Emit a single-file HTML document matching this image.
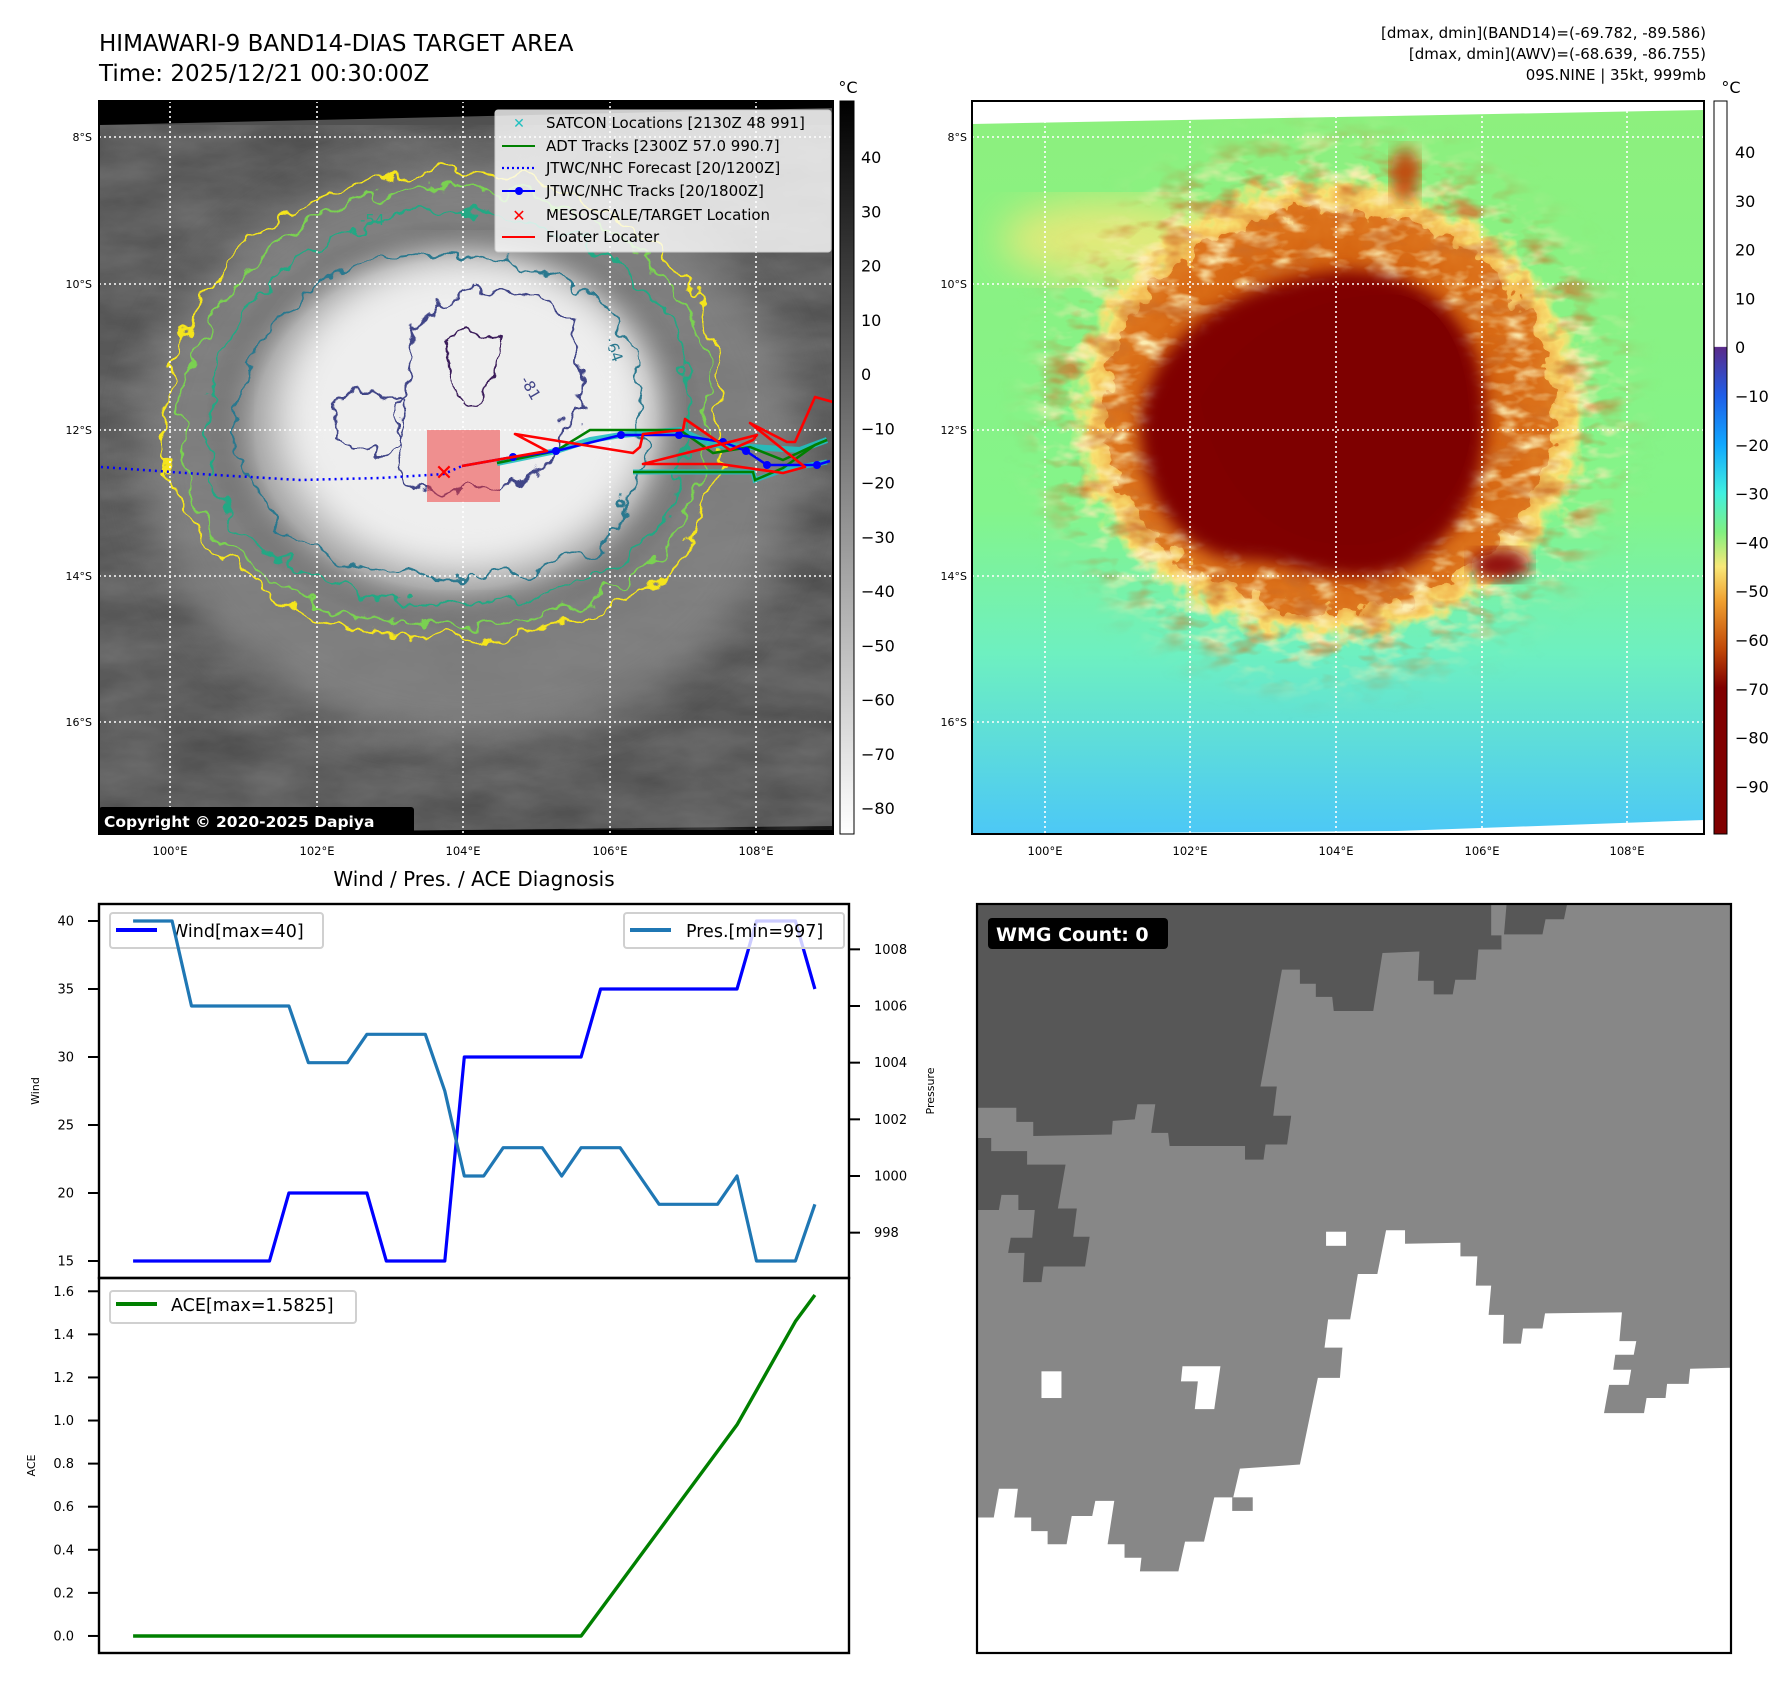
<!DOCTYPE html>
<html><head><meta charset="utf-8">
<style>
html,body{margin:0;padding:0;background:#fff;}
svg{display:block;font-family:"DejaVu Sans","Liberation Sans",sans-serif;}
</style></head>
<body>
<svg id="fig" width="1792" height="1690" viewBox="0 0 1792 1690" xmlns="http://www.w3.org/2000/svg">
<defs>
  <filter id="wig" x="-20%" y="-20%" width="140%" height="140%">
    <feTurbulence type="fractalNoise" baseFrequency="0.035" numOctaves="3" seed="4"/>
    <feDisplacementMap in="SourceGraphic" scale="34" xChannelSelector="R" yChannelSelector="G"/>
  </filter>
  <filter id="wig2" x="-20%" y="-20%" width="140%" height="140%">
    <feTurbulence type="fractalNoise" baseFrequency="0.05" numOctaves="3" seed="9"/>
    <feDisplacementMap in="SourceGraphic" scale="40" xChannelSelector="R" yChannelSelector="G"/>
  </filter>
  <filter id="blur8"><feGaussianBlur stdDeviation="8"/></filter>
  <filter id="blur20"><feGaussianBlur stdDeviation="20"/></filter>
  <filter id="noiseGray" x="0" y="0" width="100%" height="100%">
    <feTurbulence type="fractalNoise" baseFrequency="0.012 0.03" numOctaves="4" seed="2"/>
    <feColorMatrix type="matrix" values="0 0 0 0 0.3  0 0 0 0 0.3  0 0 0 0 0.3  0 0 0 0.9 -0.1"/>
  </filter>
  <filter id="noiseYellow" x="0" y="0" width="100%" height="100%">
    <feTurbulence type="fractalNoise" baseFrequency="0.03 0.06" numOctaves="3" seed="7"/>
    <feColorMatrix type="matrix" values="0 0 0 0 0.97  0 0 0 0 0.85  0 0 0 0 0.45  3 0 0 0 -1.45"/>
  </filter>
  <filter id="noiseBrown" x="0" y="0" width="100%" height="100%">
    <feTurbulence type="fractalNoise" baseFrequency="0.025 0.05" numOctaves="3" seed="13"/>
    <feColorMatrix type="matrix" values="0 0 0 0 0.6  0 0 0 0 0.15  0 0 0 0 0.02  3 0 0 0 -1.5"/>
  </filter>
  <mask id="haloMask">
    <rect x="972" y="101" width="732" height="733" fill="#000"/>
    <ellipse cx="1330" cy="410" rx="290" ry="265" fill="#fff" filter="url(#blur20)"/>
    <path d="M1200,400 C1240,330 1320,290 1400,295 C1460,310 1470,380 1470,440 C1460,500 1420,540 1360,545 C1280,548 1220,500 1200,400 Z" fill="#000" filter="url(#blur20)"/>
  </mask>
  <clipPath id="clipL"><rect x="99" y="101" width="734" height="733"/></clipPath>
  <clipPath id="clipR"><rect x="972" y="101" width="732" height="733"/></clipPath>
  <clipPath id="clipB"><rect x="977" y="904" width="754" height="749"/></clipPath>
  <radialGradient id="gCloud" cx="0.5" cy="0.5" r="0.5">
    <stop offset="0" stop-color="#f4f4f4"/><stop offset="0.55" stop-color="#e6e6e6"/>
    <stop offset="0.8" stop-color="#a8a8a8"/><stop offset="1" stop-color="#5a5a5a" stop-opacity="0"/>
  </radialGradient>
  <linearGradient id="gBg" x1="0" y1="0" x2="0" y2="1">
    <stop offset="0" stop-color="#8df07e"/><stop offset="0.55" stop-color="#84f48a"/>
    <stop offset="0.75" stop-color="#6ef0c0"/><stop offset="1" stop-color="#4cc8f6"/>
  </linearGradient>
  <radialGradient id="gHalo" cx="0.5" cy="0.5" r="0.5">
    <stop offset="0" stop-color="#b03a08"/><stop offset="0.6" stop-color="#d86812"/>
    <stop offset="0.82" stop-color="#f0a040"/><stop offset="0.93" stop-color="#f8e070"/>
    <stop offset="1" stop-color="#f8f080" stop-opacity="0"/>
  </radialGradient>
  <linearGradient id="gCbL" x1="0" y1="0" x2="0" y2="1">
    <stop offset="0" stop-color="#000"/><stop offset="1" stop-color="#fff"/>
  </linearGradient>
  <linearGradient id="gCbR" x1="0" y1="0" x2="0" y2="1">
    <stop offset="0" stop-color="#fff"/><stop offset="0.335" stop-color="#fff"/>
    <stop offset="0.336" stop-color="#5a2a8a"/><stop offset="0.402" stop-color="#1f5ee8"/>
    <stop offset="0.469" stop-color="#10a8ff"/><stop offset="0.535" stop-color="#40f0e0"/>
    <stop offset="0.588" stop-color="#80f080"/><stop offset="0.635" stop-color="#f8e878"/>
    <stop offset="0.682" stop-color="#f0a030"/><stop offset="0.748" stop-color="#c04808"/>
    <stop offset="0.8" stop-color="#800000"/><stop offset="1" stop-color="#800000"/>
  </linearGradient>
</defs>

<!-- ===== Titles ===== -->
<text x="99" y="51" font-size="23" fill="#000">HIMAWARI-9 BAND14-DIAS TARGET AREA</text>
<text x="99" y="81" font-size="23" fill="#000">Time: 2025/12/21 00:30:00Z</text>
<g font-size="15" text-anchor="end" fill="#000">
  <text x="1706" y="38">[dmax, dmin](BAND14)=(-69.782, -89.586)</text>
  <text x="1706" y="59">[dmax, dmin](AWV)=(-68.639, -86.755)</text>
  <text x="1706" y="80">09S.NINE | 35kt, 999mb</text>
</g>

<!-- ===== Left IR map ===== -->
<g>
  <rect x="99" y="101" width="734" height="733" fill="#000"/>
  <g clip-path="url(#clipL)">
    <polygon points="99,125 833,108 833,826 99,834" fill="#505050"/>
    <rect x="99" y="125" width="734" height="705" filter="url(#noiseGray)" opacity="0.6"/>
    <ellipse cx="470" cy="450" rx="330" ry="290" fill="#8a8a8a" filter="url(#blur20)" opacity="0.75"/>
    <ellipse cx="455" cy="425" rx="250" ry="205" fill="url(#gCloud)"/>
    <ellipse cx="470" cy="410" rx="180" ry="150" fill="#eeeeee" filter="url(#blur20)"/>
    <g fill="none" stroke-width="2.2" filter="url(#wig)">
      <path d="M165,420 C170,300 260,200 400,175 C520,160 640,200 700,300 C735,370 720,460 700,520 C670,600 560,640 440,638 C320,636 200,580 170,480 Z" stroke="#f5e51c"/>
      <path d="M180,420 C190,310 275,215 400,190 C515,175 630,215 690,310 C720,375 705,460 685,515 C655,590 555,625 440,625 C330,624 215,570 185,480 Z" stroke="#7ad151"/>
      <path d="M205,420 C215,320 290,235 405,215 C510,200 615,240 670,320 C700,380 690,455 672,505 C640,575 545,605 440,604 C335,603 235,555 210,475 Z" stroke="#22a884"/>
      <path d="M235,415 C245,330 315,265 410,256 C510,250 600,280 630,340 C650,395 645,470 625,520 C595,565 520,578 440,576 C370,575 300,560 262,500 C245,470 238,440 235,415 Z" stroke="#2a788e"/>
      <path d="M400,470 C395,400 410,330 440,300 C480,283 540,290 570,320 C585,350 582,400 560,450 C540,485 480,495 440,488 C415,485 402,480 400,470 Z" stroke="#414487"/>
      <path d="M335,405 C345,390 380,388 405,400 C412,420 405,445 380,452 C355,455 335,440 335,405 Z" stroke="#414487"/>
      <path d="M445,350 C450,330 480,325 495,345 C505,370 495,395 475,400 C455,398 445,380 445,350 Z" stroke="#3b1c5a"/>
    </g>
    <text x="360" y="225" font-size="15" fill="#22a884">-54</text>
    <text x="520" y="380" font-size="15" fill="#414487" transform="rotate(60 520 380)">-81</text>
    <text x="605" y="340" font-size="15" fill="#2a788e" transform="rotate(70 605 340)">-64</text>
    <g stroke="#fff" stroke-width="1.6" stroke-dasharray="2,3">
      <line x1="170" y1="101" x2="170" y2="834"/><line x1="317" y1="101" x2="317" y2="834"/>
      <line x1="463" y1="101" x2="463" y2="834"/><line x1="610" y1="101" x2="610" y2="834"/>
      <line x1="756" y1="101" x2="756" y2="834"/>
      <line x1="99" y1="137" x2="833" y2="137"/><line x1="99" y1="284" x2="833" y2="284"/>
      <line x1="99" y1="430" x2="833" y2="430"/><line x1="99" y1="576" x2="833" y2="576"/>
      <line x1="99" y1="722" x2="833" y2="722"/>
    </g>
    <rect x="427" y="430" width="73" height="72" fill="#f03030" opacity="0.5"/>
    <polyline points="101,467 200,474 300,480 380,478 444,474 462,466" fill="none" stroke="#0000ff" stroke-width="2.5" stroke-dasharray="2,4"/>
    <polyline points="497,463 556,451 590,440 621,435 680,430 713,445 750,447 800,450 827,440" fill="none" stroke="#20c0c0" stroke-width="6" opacity="0.9"/>
    <polyline points="633,472 753,472 755,480 783,470 827,462" fill="none" stroke="#20c0c0" stroke-width="5" opacity="0.9"/>
    <polyline points="497,463 556,451 590,430 680,430 713,453 750,447 783,460 815,445 827,440" fill="none" stroke="#008000" stroke-width="2.5"/>
    <polyline points="633,472 753,472 755,480 783,468 815,445 827,440" fill="none" stroke="#008000" stroke-width="2.5"/>
    <polyline points="462,466 513,457 556,451 621,435 679,435 723,442 746,451 767,465 817,465 830,461" fill="none" stroke="#0000ff" stroke-width="2.5"/>
    <g fill="#0000ff">
      <circle cx="513" cy="457" r="4"/><circle cx="556" cy="451" r="4"/><circle cx="621" cy="435" r="4"/>
      <circle cx="679" cy="435" r="4"/><circle cx="723" cy="442" r="4"/><circle cx="746" cy="451" r="4"/>
      <circle cx="767" cy="465" r="4"/><circle cx="817" cy="465" r="4"/>
    </g>
    <polyline points="462,466 547,451 515,434 633,453 640,447 643,434 683,430 685,419 730,450 753,440 757,435 643,464 720,464 783,473 805,467 750,423 787,442 795,442 815,397 833,402" fill="none" stroke="#ff0000" stroke-width="2.6" stroke-linejoin="round"/>
    <text x="444" y="480" font-size="22" font-weight="bold" fill="#ff0000" text-anchor="middle">✕</text>
    <g>
      <rect x="495" y="110" width="336" height="142" rx="3" fill="#ffffff" fill-opacity="0.8" stroke="#cccccc"/>
      <text x="519" y="128" font-size="14" fill="#20c0c0" text-anchor="middle" font-weight="bold">✕</text>
      <line x1="502" y1="146" x2="535" y2="146" stroke="#008000" stroke-width="2"/>
      <line x1="502" y1="168" x2="535" y2="168" stroke="#0000ff" stroke-width="2.2" stroke-dasharray="2,3"/>
      <line x1="502" y1="191" x2="535" y2="191" stroke="#0000ff" stroke-width="2"/><circle cx="519" cy="191" r="4" fill="#0000ff"/>
      <text x="519" y="221" font-size="16" fill="#ff0000" text-anchor="middle" font-weight="bold">✕</text>
      <line x1="502" y1="237" x2="535" y2="237" stroke="#ff0000" stroke-width="2"/>
      <g font-size="15" fill="#000">
        <text x="546" y="128">SATCON Locations [2130Z 48 991]</text>
        <text x="546" y="151">ADT Tracks [2300Z 57.0 990.7]</text>
        <text x="546" y="173">JTWC/NHC Forecast [20/1200Z]</text>
        <text x="546" y="196">JTWC/NHC Tracks [20/1800Z]</text>
        <text x="546" y="220">MESOSCALE/TARGET Location</text>
        <text x="546" y="242">Floater Locater</text>
      </g>
    </g>
    <rect x="99" y="807" width="315" height="27" fill="#000" rx="3"/>
    <text x="104" y="827" font-size="15.5" font-weight="bold" fill="#fff">Copyright © 2020-2025 Dapiya</text>
  </g>
  <rect x="99" y="101" width="734" height="733" fill="none" stroke="#000" stroke-width="2"/>
</g>
<g font-size="11" fill="#000" text-anchor="end">
  <text x="92" y="141">8°S</text><text x="92" y="288">10°S</text><text x="92" y="434">12°S</text>
  <text x="92" y="580">14°S</text><text x="92" y="726">16°S</text>
</g>
<g font-size="11.5" fill="#000" text-anchor="middle">
  <text x="170" y="855">100°E</text><text x="317" y="855">102°E</text><text x="463" y="855">104°E</text>
  <text x="610" y="855">106°E</text><text x="756" y="855">108°E</text>
</g>
<g>
  <rect x="840" y="101" width="14" height="733" fill="url(#gCbL)" stroke="#000" stroke-width="1"/>
  <text x="848" y="93" font-size="16" text-anchor="middle">°C</text>
  <g font-size="16" fill="#000" id="cbLlabels"></g>
</g>

<!-- ===== Right color map ===== -->
<g>
  <rect x="972" y="101" width="732" height="733" fill="#fff"/>
  <g clip-path="url(#clipR)">
    <polygon points="972,124 1704,110 1704,820 1397,831 972,834" fill="url(#gBg)"/>
    <ellipse cx="1110" cy="240" rx="110" ry="40" fill="#f8e878" filter="url(#blur20)" opacity="0.8"/>
    <ellipse cx="1330" cy="410" rx="260" ry="235" fill="url(#gHalo)" filter="url(#wig2)"/>
    <ellipse cx="1330" cy="410" rx="225" ry="200" fill="#d46010" filter="url(#wig2)" opacity="0.7"/>
    <g mask="url(#haloMask)">
      <rect x="972" y="101" width="732" height="733" filter="url(#noiseYellow)"/>
      <rect x="972" y="101" width="732" height="733" filter="url(#noiseBrown)" opacity="0.8"/>
    </g>
    <path d="M1140,420 C1150,340 1230,285 1330,272 C1420,262 1480,320 1485,400 C1490,470 1465,540 1400,570 C1340,590 1290,560 1250,560 C1190,560 1140,510 1140,420 Z" fill="#800000" filter="url(#blur8)"/>
    <path d="M1200,400 C1240,330 1320,290 1400,295 C1460,310 1470,380 1470,440 C1460,500 1420,540 1360,545 C1280,548 1220,500 1200,400 Z" fill="#7e0000"/>
    <ellipse cx="1405" cy="175" rx="14" ry="28" fill="#c04808" filter="url(#blur8)"/>
    <ellipse cx="1500" cy="565" rx="30" ry="16" fill="#900808" filter="url(#blur8)"/>
    <g stroke="#fff" stroke-width="1.6" stroke-dasharray="2,3">
      <line x1="1045" y1="101" x2="1045" y2="834"/><line x1="1190" y1="101" x2="1190" y2="834"/>
      <line x1="1336" y1="101" x2="1336" y2="834"/><line x1="1482" y1="101" x2="1482" y2="834"/>
      <line x1="1627" y1="101" x2="1627" y2="834"/>
      <line x1="972" y1="137" x2="1704" y2="137"/><line x1="972" y1="284" x2="1704" y2="284"/>
      <line x1="972" y1="430" x2="1704" y2="430"/><line x1="972" y1="576" x2="1704" y2="576"/>
      <line x1="972" y1="722" x2="1704" y2="722"/>
    </g>
  </g>
  <rect x="972" y="101" width="732" height="733" fill="none" stroke="#000" stroke-width="2"/>
</g>
<g font-size="11" fill="#000" text-anchor="end">
  <text x="967" y="141">8°S</text><text x="967" y="288">10°S</text><text x="967" y="434">12°S</text>
  <text x="967" y="580">14°S</text><text x="967" y="726">16°S</text>
</g>
<g font-size="11.5" fill="#000" text-anchor="middle">
  <text x="1045" y="855">100°E</text><text x="1190" y="855">102°E</text><text x="1336" y="855">104°E</text>
  <text x="1482" y="855">106°E</text><text x="1627" y="855">108°E</text>
</g>
<g>
  <rect x="1714" y="101" width="13" height="733" fill="url(#gCbR)" stroke="#000" stroke-width="1"/>
  <text x="1731" y="93" font-size="16" text-anchor="middle">°C</text>
  <g font-size="16" fill="#000" id="cbRlabels"></g>
</g>

<!-- ===== Bottom-left chart ===== -->
<text x="474" y="886" font-size="20" text-anchor="middle" fill="#000">Wind / Pres. / ACE Diagnosis</text>
<g id="chart"></g>

<!-- ===== Bottom-right WMG panel ===== -->
<g>
  <g clip-path="url(#clipB)">
  <g transform="translate(963,890) scale(0.5128,0.504)">
    <rect x="28" y="28" width="1470" height="1486" fill="#878787"/>
    <polygon fill="#575757" points="28,28 1030,28 1030,90 1050,90 1050,118 1005,118 1000,178 960,178 955,207 918,207 918,180 887,180 890,122 818,125 800,240 723,240 720,212 688,212 688,186 657,186 657,158 622,158 580,390 612,390 605,448 640,448 632,505 590,505 586,535 550,535 550,508 403,508 400,482 367,482 375,425 340,425 335,455 292,458 290,485 137,488 137,460 104,460 104,432 28,432"/>
    <polygon fill="#575757" points="1060,28 1178,28 1172,58 1136,58 1130,88 1055,88"/>
    <polygon fill="#575757" points="28,492 55,492 55,518 125,518 125,545 200,545 185,632 222,632 215,688 247,688 238,747 157,747 153,778 117,778 120,720 88,720 93,690 135,690 140,635 108,635 108,605 75,605 70,635 28,635"/>
    <polygon fill="#ffffff" points="28,1245 60,1245 70,1188 107,1188 100,1245 133,1245 133,1272 165,1272 165,1298 202,1298 212,1242 252,1242 258,1212 295,1212 282,1298 315,1298 315,1325 348,1325 345,1352 420,1352 433,1293 470,1293 490,1205 527,1205 540,1148 657,1140 692,968 735,968 740,908 705,908 712,852 755,852 770,762 808,762 825,675 862,675 862,702 970,700 970,727 1003,727 1000,785 1030,785 1025,843 1055,843 1053,900 1088,900 1092,870 1130,870 1135,840 1285,838 1280,895 1313,895 1308,922 1272,922 1268,952 1303,952 1298,982 1260,982 1250,1038 1328,1038 1333,1008 1370,1008 1373,980 1415,980 1418,950 1498,948 1498,1514 28,1514"/>
    <rect x="525" y="1205" width="40" height="27" fill="#878787"/>
    <rect x="708" y="678" width="39" height="28" fill="#fff"/>
    <rect x="153" y="955" width="39" height="53" fill="#fff"/>
    <polygon fill="#fff" points="428,945 502,945 490,1030 452,1030 458,975 425,975"/>
  </g>
  </g>
  <rect x="977" y="904" width="754" height="749" fill="none" stroke="#000" stroke-width="2.2"/>
  <rect x="988" y="918" width="180" height="31" rx="4" fill="#000"/>
  <text x="996" y="941" font-size="19" font-weight="bold" fill="#fff">WMG Count: 0</text>
</g>
</svg>

<script>
// ---- chart data ----
var windValues = [15,15,15,15,15,15,15,15,20,20,20,20,20,15,15,15,15,30,30,30,30,30,30,30,35,35,35,35,35,35,35,35,40,40,40,35];
var presValues = [1009,1009,1009,1006,1006,1006,1006,1006,1006,1004,1004,1004,1005,1005,1005,1005,1003,1000,1000,1001,1001,1001,1000,1001,1001,1001,1000,999,999,999,999,1000,997,997,997,999];
var aceValues = [0,0,0,0,0,0,0,0,0,0,0,0,0,0,0,0,0,0,0,0,0,0,0,0,0.1225,0.245,0.3675,0.49,0.6125,0.735,0.8575,0.98,1.14,1.30,1.46,1.5825];
var windTicks = [15,20,25,30,35,40];
var presTicks = [998,1000,1002,1004,1006,1008];
var aceTicks = [0.0,0.2,0.4,0.6,0.8,1.0,1.2,1.4,1.6];
var cbLeftTicks = [40,30,20,10,0,-10,-20,-30,-40,-50,-60,-70,-80];
var cbRightTicks = [40,30,20,10,0,-10,-20,-30,-40,-50,-60,-70,-80,-90];

var NS = 'http://www.w3.org/2000/svg';
function mk(tag, attrs, parent){
  var e = document.createElementNS(NS, tag);
  for (var k in attrs) e.setAttribute(k, attrs[k]);
  if (parent) parent.appendChild(e);
  return e;
}
var L = 99, R = 849, T1 = 904, B1 = 1278, B2 = 1653;
var n = windValues.length;
var xMin = -0.05*(n-1), xMax = (n-1)*1.05;
function xs(i){ return L + (i - xMin)/(xMax - xMin)*(R - L); }
function rng(arr){ var mn=Math.min.apply(null,arr), mx=Math.max.apply(null,arr), p=(mx-mn)*0.05; return [mn-p, mx+p]; }
var wR = rng(windValues), pR = rng(presValues), aR = rng(aceValues);
function yw(v){ return B1 - (v - wR[0])/(wR[1]-wR[0])*(B1-T1); }
function yp(v){ return B1 - (v - pR[0])/(pR[1]-pR[0])*(B1-T1); }
function ya(v){ return B2 - (v - aR[0])/(aR[1]-aR[0])*(B2-B1); }

var chart = document.getElementById('chart');
function pts(arr, yf){ return arr.map(function(v,i){ return xs(i).toFixed(1)+','+yf(v).toFixed(1); }).join(' '); }

var wl = mk('polyline', {points: pts(windValues, yw), fill:'none', stroke:'#0000ff', 'stroke-width':3.2, 'stroke-linejoin':'round'}, chart);


var wlg = mk('g', {}, chart);


mk('rect', {x:110, y:913, width:213, height:35, rx:3, fill:'#fff', 'fill-opacity':0.8, stroke:'#d0d0d0', 'stroke-width':2}, wlg);
mk('line', {x1:116, y1:930, x2:157, y2:930, stroke:'#0000ff', 'stroke-width':4}, wlg);
var wt = mk('text', {x:171, y:937, 'font-size':17.5, fill:'#000'}, wlg); wt.textContent = 'Wind[max=40]';
var pl = mk('polyline', {points: pts(presValues, yp), fill:'none', stroke:'#1f77b4', 'stroke-width':3.2, 'stroke-linejoin':'round'}, chart);


var plg = mk('g', {}, chart);


mk('rect', {x:624, y:913, width:220, height:35, rx:3, fill:'#fff', 'fill-opacity':0.8, stroke:'#d0d0d0', 'stroke-width':2}, plg);
mk('line', {x1:630, y1:930, x2:671, y2:930, stroke:'#1f77b4', 'stroke-width':4}, plg);
var pt = mk('text', {x:686, y:937, 'font-size':17.5, fill:'#000'}, plg); pt.textContent = 'Pres.[min=997]';
var al = mk('polyline', {points: pts(aceValues, ya), fill:'none', stroke:'#008000', 'stroke-width':3.4, 'stroke-linejoin':'round'}, chart);


var alg = mk('g', {}, chart);


mk('rect', {x:110, y:1291, width:246, height:32, rx:3, fill:'#fff', 'fill-opacity':0.8, stroke:'#d0d0d0', 'stroke-width':2}, alg);
mk('line', {x1:116, y1:1304, x2:157, y2:1304, stroke:'#008000', 'stroke-width':4}, alg);
var at = mk('text', {x:171, y:1311, 'font-size':17.5, fill:'#000'}, alg); at.textContent = 'ACE[max=1.5825]';

mk('rect', {x:L, y:T1, width:R-L, height:B1-T1, fill:'none', stroke:'#000', 'stroke-width':2.4}, chart);
mk('rect', {x:L, y:B1, width:R-L, height:B2-B1, fill:'none', stroke:'#000', 'stroke-width':2.4}, chart);

windTicks.forEach(function(v){
  var y = yw(v);
  mk('line', {x1:L-11, y1:y, x2:L, y2:y, stroke:'#000', 'stroke-width':2}, chart);
  var t = mk('text', {x:L-25, y:y+4.5, 'font-size':13, 'text-anchor':'end', fill:'#000'}, chart);
  
  
  t.textContent = v;
});
presTicks.forEach(function(v){
  var y = yp(v);
  mk('line', {x1:R, y1:y, x2:R+11, y2:y, stroke:'#000', 'stroke-width':2}, chart);
  var t = mk('text', {x:R+25, y:y+4.5, 'font-size':13, fill:'#000'}, chart);
  
  
  t.textContent = v;
});
aceTicks.forEach(function(v){
  var y = ya(v);
  mk('line', {x1:L-11, y1:y, x2:L, y2:y, stroke:'#000', 'stroke-width':2}, chart);
  var t = mk('text', {x:L-25, y:y+4.5, 'font-size':13, 'text-anchor':'end', fill:'#000'}, chart);
  
  
  t.textContent = v.toFixed(1);
});
var yl1 = mk('text', {x:39, y:(T1+B1)/2, 'font-size':11, 'text-anchor':'middle', fill:'#000', transform:'rotate(-90 39 '+((T1+B1)/2)+')'}, chart);


yl1.textContent = 'Wind';
var yl2 = mk('text', {x:934, y:(T1+B1)/2, 'font-size':11, 'text-anchor':'middle', fill:'#000', transform:'rotate(-90 934 '+((T1+B1)/2)+')'}, chart);


yl2.textContent = 'Pressure';
var yl3 = mk('text', {x:35, y:(B1+B2)/2, 'font-size':11, 'text-anchor':'middle', fill:'#000', transform:'rotate(-90 35 '+((B1+B2)/2)+')'}, chart);


yl3.textContent = 'ACE';

var cbL = document.getElementById('cbLlabels');
cbLeftTicks.forEach(function(v){
  var y = 157 + (40 - v)*5.425;
  var t = mk('text', {x:861, y:y+6}, cbL);
  
  
  t.textContent = (v < 0 ? '\u2212' + (-v) : v);
});
var cbR = document.getElementById('cbRlabels');
cbRightTicks.forEach(function(v){
  var y = 152 + (40 - v)*4.88;
  var t = mk('text', {x:1735, y:y+6}, cbR);
  
  
  t.textContent = (v < 0 ? '\u2212' + (-v) : v);
});
</script>
</body></html>
